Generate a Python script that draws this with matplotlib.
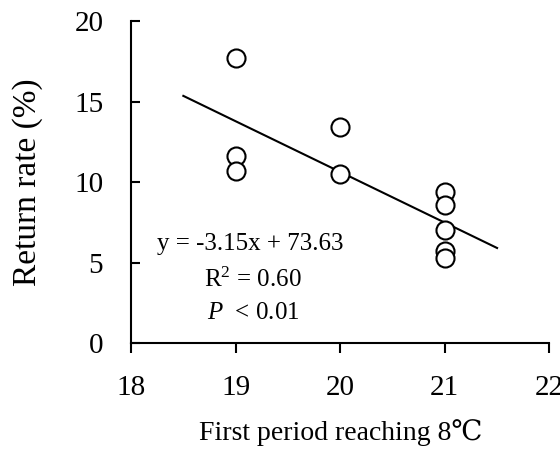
import matplotlib
matplotlib.use('Agg')
import matplotlib.pyplot as plt
import numpy as np

plt.rcParams['font.family'] = ['Liberation Serif', 'DejaVu Serif']
plt.rcParams['mathtext.fontset'] = 'custom'
plt.rcParams['mathtext.rm'] = 'Liberation Serif'
plt.rcParams['mathtext.it'] = 'Liberation Serif:italic'

# data
period = [19, 19, 19, 20, 20, 21, 21, 21, 21, 21]
return_rate = [17.7, 11.6, 10.7, 13.4, 10.5, 9.4, 8.6, 7.0, 5.7, 5.3]
fit_x = [18.5, 21.5]
slope = -3.15
intercept = 73.63
x_ticks = [18, 19, 20, 21, 22]
y_ticks = [0, 5, 10, 15, 20]

fig = plt.figure(figsize=(5.6, 4.49), dpi=100)
ax = fig.add_axes([0.234, 0.236, 0.747, 0.717])

ax.scatter(period, return_rate, s=13**2, facecolors='white', edgecolors='black',
           linewidths=1.5, zorder=3)
fit_y = [slope * v + intercept for v in fit_x]
ax.plot(fit_x, fit_y, color='black', lw=1.5, zorder=2)

ax.set_xlim(18, 22)
ax.set_ylim(0, 20)
ax.set_xticks(x_ticks)
ax.set_yticks(y_ticks)
ax.spines['top'].set_visible(False)
ax.spines['right'].set_visible(False)
ax.spines['left'].set_linewidth(1.5)
ax.spines['bottom'].set_linewidth(1.5)
ax.tick_params(axis='x', direction='out', length=7, width=1.5, pad=16, labelsize=21)
ax.tick_params(axis='y', direction='in', length=6.5, width=1.5, pad=20, labelsize=21)

ax.set_xlabel('First period reaching 8℃', fontsize=20, labelpad=13)
ax.set_ylabel('Return rate (%)', fontsize=24, labelpad=22)

ax.text(18.25, 5.78, 'y = -3.15x + 73.63', fontsize=18, ha='left', va='baseline')
ax.text(18.70, 3.48, 'R$^2$ = 0.60', fontsize=18, ha='left', va='baseline')
ax.text(18.73, 1.49, '$P$  < 0.01', fontsize=18, ha='left', va='baseline')

fig.savefig('out.png', dpi=100)
